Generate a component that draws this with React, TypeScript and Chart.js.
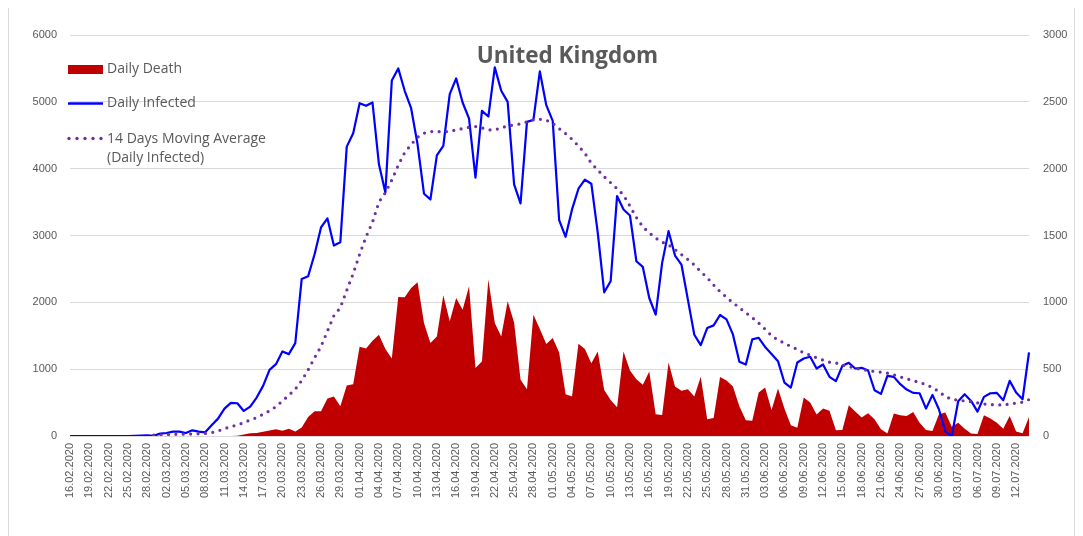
import React, { useEffect, useRef } from 'react';
import { Chart, registerables } from 'chart.js';

Chart.register(...registerables);

const TITLE = 'United Kingdom';
const SERIES_DEATH = 'Daily Death';
const SERIES_INFECTED = 'Daily Infected';
const SERIES_MA = ['14 Days Moving Average', '(Daily Infected)'];

const START_DATE = Date.UTC(2020, 1, 16);
const DAY_COUNT = 150;
const pad2 = (n: number) => (n < 10 ? '0' + n : '' + n);
const dates: string[] = [];
for (let i = 0; i < DAY_COUNT; i++) {
  const d = new Date(START_DATE + i * 86400000);
  dates.push(`${pad2(d.getUTCDate())}.${pad2(d.getUTCMonth() + 1)}.${d.getUTCFullYear()}`);
}

const dailyInfected: number[] = [
  0, 0, 0, 0, 0, 0, 0, 0, 0, 0,
  2, 5, 10, 3, 35, 45, 65, 65, 45, 85,
  65, 55, 160, 260, 410, 495, 490, 375, 440, 575,
  750, 990, 1075, 1265, 1225, 1390, 2350, 2390, 2720, 3120,
  3255, 2850, 2900, 4330, 4530, 4980, 4940, 4990, 4065, 3645,
  5320, 5500, 5165, 4905, 4365, 3625, 3540, 4200, 4340, 5115,
  5350, 4990, 4750, 3865, 4865, 4780, 5515, 5165, 5000, 3765,
  3480, 4700, 4730, 5455, 4950, 4715, 3230, 2980, 3390, 3700,
  3835, 3775, 3040, 2150, 2315, 3590, 3390, 3300, 2615, 2530,
  2065, 1815, 2590, 3065, 2700, 2565, 2040, 1515, 1360, 1615,
  1655, 1810, 1745, 1520, 1112, 1070, 1445, 1470, 1332, 1228,
  1120, 800, 725, 1100, 1160, 1185, 1010, 1070, 885, 820,
  1050, 1095, 1010, 1020, 980, 685, 630, 900, 885, 775,
  695, 645, 640, 410, 615, 400, 65, 0, 520, 625,
  525, 365, 585, 640, 645, 535, 825, 650, 550, 1250,
];

const dailyDeath: number[] = [
  0, 0, 0, 0, 0, 0, 0, 0, 0, 0,
  0, 0, 0, 0, 0, 0, 0, 0, 0, 0,
  0, 0, 0, 0, 0, 0, 2, 12, 20, 22,
  32, 42, 50, 40, 55, 33, 63, 143, 185, 185,
  280, 295, 222, 378, 388, 668, 655, 712, 757, 650,
  580, 1040, 1038, 1108, 1150, 845, 695, 745, 1053, 858,
  1033, 945, 1120, 508, 558, 1170, 845, 745, 1008, 850,
  420, 350, 908, 800, 688, 733, 625, 313, 295, 690,
  650, 545, 633, 345, 270, 215, 633, 490, 425, 383,
  483, 163, 158, 550, 370, 338, 350, 295, 443, 125,
  134, 442, 415, 370, 222, 118, 115, 325, 362, 195,
  355, 205, 80, 62, 288, 250, 160, 205, 188, 43,
  45, 230, 183, 138, 170, 125, 50, 18, 168, 155,
  150, 180, 100, 45, 38, 160, 175, 70, 100, 55,
  18, 15, 155, 130, 100, 55, 150, 33, 20, 143,
];

const movingAverage: (number | null)[] = [
  null, null, null, null, null, null, null, null, null, null,
  null, null, null, 15, 18, 20, 23, 26, 28, 30,
  33, 38, 50, 75, 110, 140, 165, 200, 240, 275,
  325, 375, 440, 525, 610, 700, 830, 990, 1170, 1340,
  1570, 1800, 1920, 2180, 2430, 2720, 2980, 3200, 3500, 3640,
  3830, 4050, 4240, 4360, 4470, 4530, 4555, 4555, 4550, 4560,
  4580, 4600, 4620, 4630, 4610, 4580, 4580, 4610, 4640, 4655,
  4670, 4700, 4730, 4740, 4725, 4680, 4600, 4525, 4440, 4340,
  4230, 4080, 3980, 3880, 3790, 3700, 3605, 3440, 3270, 3130,
  3040, 2960, 2900, 2860, 2790, 2715, 2640, 2560, 2460, 2370,
  2260, 2160, 2075, 1995, 1920, 1845, 1770, 1690, 1600, 1500,
  1435, 1390, 1340, 1295, 1245, 1210, 1170, 1135, 1105, 1095,
  1060, 1040, 1015, 995, 980, 965, 955, 940, 915, 885,
  855, 830, 800, 770, 725, 665, 590, 550, 535, 525,
  512, 495, 480, 470, 468, 460, 480, 492, 505, 545,
];

const LEFT_MAX = 6000;
const LEFT_STEP = 1000;
const RIGHT_MAX = 3000;
const RIGHT_STEP = 500;

const COLOR_DEATH = '#c00000';
const COLOR_INFECTED = '#0000ff';
const COLOR_MA = '#7030a0';
const COLOR_TEXT = '#595959';
const COLOR_GRID = '#d9d9d9';

const W = 1067;
const H = 528;

const overlayPlugin = {
  id: 'overlay',
  afterDraw(chart: any) {
    const ctx = chart.ctx as CanvasRenderingContext2D;
    ctx.save();
    // title
    ctx.fillStyle = COLOR_TEXT;
    ctx.font = "bold 22.5px 'Open Sans'";
    ctx.textAlign = 'center';
    ctx.textBaseline = 'alphabetic';
    ctx.fillText(TITLE, 559.5, 55);

    // legend
    ctx.font = "14px 'Open Sans'";
    ctx.textAlign = 'left';
    ctx.textBaseline = 'middle';
    ctx.fillStyle = COLOR_DEATH;
    ctx.fillRect(60, 57, 35, 9);
    ctx.fillStyle = COLOR_TEXT;
    ctx.fillText(SERIES_DEATH, 99, 61.5);

    ctx.strokeStyle = COLOR_INFECTED;
    ctx.lineWidth = 2.5;
    ctx.beginPath();
    ctx.moveTo(60, 95.5);
    ctx.lineTo(95, 95.5);
    ctx.stroke();
    ctx.fillText(SERIES_INFECTED, 99, 95.5);

    ctx.fillStyle = COLOR_MA;
    for (let k = 0; k < 5; k++) {
      ctx.beginPath();
      ctx.arc(61 + k * 8, 130.5, 1.7, 0, Math.PI * 2);
      ctx.fill();
    }
    ctx.fillStyle = COLOR_TEXT;
    ctx.fillText(SERIES_MA[0], 99, 131);
    ctx.fillText(SERIES_MA[1], 99, 150);
    ctx.restore();
  },
};

export default function App() {
  const ref = useRef<HTMLCanvasElement | null>(null);

  useEffect(() => {
    if (!ref.current) return;
    const chart = new Chart(ref.current, {
      type: 'line',
      data: {
        labels: dates,
        datasets: [
          {
            label: SERIES_MA.join(' '),
            data: movingAverage,
            yAxisID: 'y',
            borderColor: COLOR_MA,
            borderWidth: 3.2,
            borderDash: [0, 7.4],
            borderCapStyle: 'round',
            pointRadius: 0,
            fill: false,
            tension: 0,
            order: 0,
          },
          {
            label: SERIES_INFECTED,
            data: dailyInfected,
            yAxisID: 'y',
            borderColor: COLOR_INFECTED,
            borderWidth: 2.2,
            borderJoinStyle: 'round',
            pointRadius: 0,
            fill: false,
            tension: 0,
            order: 1,
          },
          {
            label: SERIES_DEATH,
            data: dailyDeath,
            yAxisID: 'y1',
            borderColor: 'rgba(0,0,0,0)',
            borderWidth: 0,
            backgroundColor: COLOR_DEATH,
            pointRadius: 0,
            fill: 'origin',
            tension: 0,
            order: 2,
          },
        ],
      },
      options: {
        responsive: false,
        animation: false,
        devicePixelRatio: 1,
        layout: { padding: { top: 27, left: 0, right: 0, bottom: 0 } },
        plugins: {
          legend: { display: false },
          title: { display: false },
          tooltip: { enabled: false },
        },
        scales: {
          x: {
            type: 'category',
            offset: false,
            grid: { display: false, drawTicks: false },
            border: { display: false },
            ticks: {
              autoSkip: false,
              minRotation: 90,
              maxRotation: 90,
              padding: 7,
              color: COLOR_TEXT,
              font: { family: "'Liberation Sans'", size: 11 },
              callback: (_v: any, index: number) => (index % 3 === 0 ? dates[index] : ''),
            },
            afterFit: (scale: any) => {
              scale.height = 100;
            },
          },
          y: {
            position: 'left',
            min: 0,
            max: LEFT_MAX,
            grid: { color: COLOR_GRID, lineWidth: 1, drawTicks: false },
            border: { display: false },
            ticks: {
              stepSize: LEFT_STEP,
              padding: 13,
              color: COLOR_TEXT,
              font: { family: "'Liberation Sans'", size: 11 },
              callback: (v: any) => String(v),
            },
            afterFit: (scale: any) => {
              scale.width = 62;
            },
          },
          y1: {
            position: 'right',
            min: 0,
            max: RIGHT_MAX,
            grid: { display: false, drawTicks: false },
            border: { display: false },
            ticks: {
              stepSize: RIGHT_STEP,
              padding: 14,
              color: COLOR_TEXT,
              font: { family: "'Liberation Sans'", size: 11 },
              callback: (v: any) => String(v),
            },
            afterFit: (scale: any) => {
              scale.width = 46;
            },
          },
        },
      },
      plugins: [overlayPlugin],
    } as any);
    return () => chart.destroy();
  }, []);

  return (
    <div style={{ position: 'relative', width: W, height: H, overflow: 'hidden' }}>
      <div
        style={{
          position: 'absolute',
          left: 0,
          top: -1,
          width: W,
          height: H + 40,
          border: '1px solid #d9d9d9',
          boxSizing: 'border-box',
        }}
      />
      <canvas
        ref={ref}
        width={W}
        height={H}
        style={{ position: 'absolute', left: 0, top: 0, width: W, height: H }}
      />
    </div>
  );
}
